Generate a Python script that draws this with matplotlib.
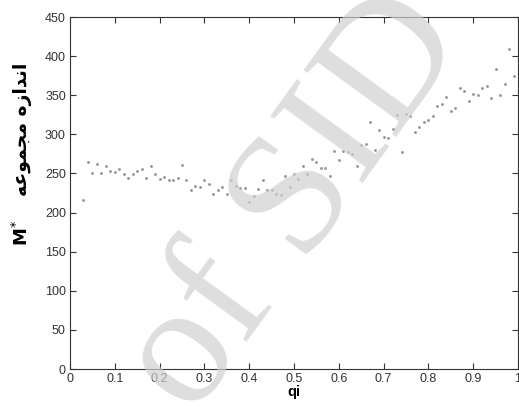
import numpy as np
import matplotlib.pyplot as plt

#%% DATA

qi = np.round(np.arange(0.03, 1.0, 0.01), 2)  # 0.03 ... 0.99

M_star = [216, 265, 251, 262, 250, 260, 253, 252, 256, 249,
          244, 249, 253, 256, 244, 259, 249, 243, 246, 241,
          241, 244, 261, 241, 229, 234, 233, 241, 237, 224,
          229, 233, 224, 241, 234, 231, 231, 214, 221, 230,
          241, 229, 229, 224, 222, 247, 233, 249, 243, 259,
          249, 268, 264, 257, 257, 247, 279, 267, 279, 277,
          275, 260, 286, 288, 316, 280, 305, 297, 295, 307,
          325, 277, 326, 324, 303, 309, 316, 318, 323, 336,
          339, 348, 330, 334, 359, 356, 342, 351, 350, 359,
          362, 346, 384, 350, 364, 409, 375]

xticks = [0, 0.1, 0.2, 0.3, 0.4, 0.5, 0.6, 0.7, 0.8, 0.9, 1]
yticks = [0, 50, 100, 150, 200, 250, 300, 350, 400, 450]

# persian label in visual order (presentation forms)
fa_label = "\ufeea\ufecb\ufeee\ufee4\ufea0\ufee3 \ufee9\ufeaf\ufe8d\ufeaa\ufee7\ufe8d"

#%% PLOT

plt.rcParams['font.family'] = ['Liberation Sans', 'DejaVu Sans']

fig = plt.figure(figsize=(5.19, 4.07), dpi=100)
ax = fig.add_axes([70/519, 38/407, 448/519, 352/407])

ax.plot(qi, M_star, '.', color='#9a9a9a', ms=2.2)

ax.set_xlim(0, 1)
ax.set_ylim(0, 450)
ax.set_xticks(xticks)
ax.set_xticklabels(['0', '0.1', '0.2', '0.3', '0.4', '0.5', '0.6', '0.7', '0.8', '0.9', '1'])
ax.set_yticks(yticks)
ax.tick_params(direction='in', top=True, right=True, labelsize=9, length=4,
               colors='#333333', labelcolor='#333333', pad=3)
for s in ax.spines.values():
    s.set_color('#333333')
    s.set_linewidth(0.8)

ax.set_xlabel('qi', fontsize=10.5, fontweight='bold', labelpad=0)

ax.text(-0.107, 0.385, r'$\mathbf{M}^{*}$', transform=ax.transAxes, rotation=90,
        ha='center', va='center', fontsize=13)
ax.text(-0.107, 0.68, fa_label, transform=ax.transAxes, rotation=90,
        ha='center', va='center', fontsize=13.5, fontweight='bold',
        family=['DejaVu Sans'])

# watermark
fig.text(0.57, 0.5, 'of SID', rotation=54, ha='center', va='center',
         fontsize=125, family=['Liberation Serif'], color='#d0d0d0',
         alpha=0.7, zorder=0)

fig.savefig('out.png', dpi=100)
